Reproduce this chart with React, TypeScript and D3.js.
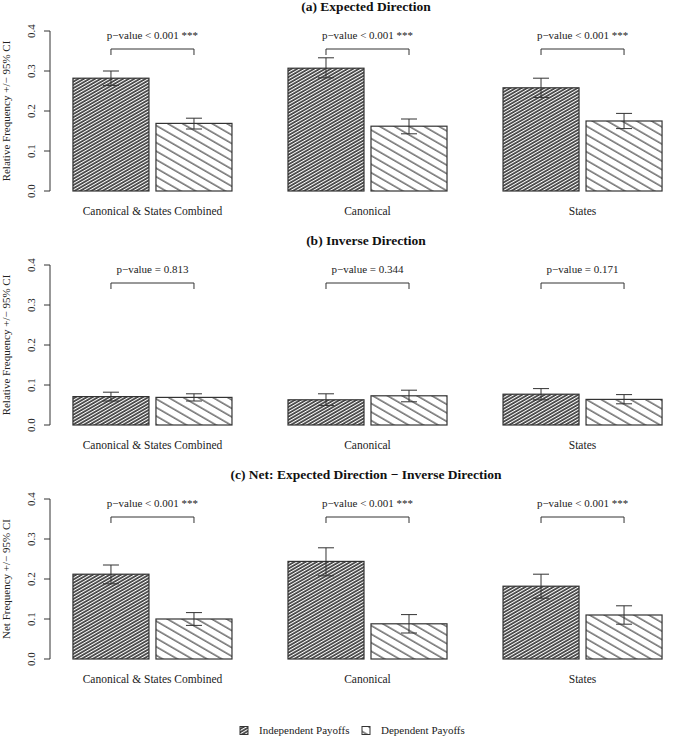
import React from "react";
import * as d3 from "d3";

const categories = ["Canonical & States Combined", "Canonical", "States"];
const series = ["Independent Payoffs", "Dependent Payoffs"];

const panelTitles = [
  "(a) Expected Direction",
  "(b) Inverse Direction",
  "(c) Net: Expected Direction \u2212 Inverse Direction",
];
const yLabels = [
  "Relative Frequency +/\u2212 95% CI",
  "Relative Frequency +/\u2212 95% CI",
  "Net Frequency +/\u2212 95% CI",
];

const expectedIndep = [0.282, 0.307, 0.258];
const expectedIndepLo = [0.264, 0.283, 0.234];
const expectedIndepHi = [0.3, 0.333, 0.282];
const expectedDep = [0.169, 0.162, 0.175];
const expectedDepLo = [0.155, 0.143, 0.156];
const expectedDepHi = [0.182, 0.18, 0.194];

const inverseIndep = [0.071, 0.063, 0.077];
const inverseIndepLo = [0.06, 0.049, 0.063];
const inverseIndepHi = [0.082, 0.078, 0.091];
const inverseDep = [0.069, 0.073, 0.064];
const inverseDepLo = [0.06, 0.058, 0.053];
const inverseDepHi = [0.078, 0.087, 0.076];

const netIndep = [0.212, 0.244, 0.182];
const netIndepLo = [0.188, 0.208, 0.152];
const netIndepHi = [0.235, 0.278, 0.212];
const netDep = [0.1, 0.088, 0.11];
const netDepLo = [0.084, 0.065, 0.087];
const netDepHi = [0.116, 0.111, 0.133];

const pExpected = ["p\u2212value < 0.001 ***", "p\u2212value < 0.001 ***", "p\u2212value < 0.001 ***"];
const pInverse = ["p\u2212value = 0.813", "p\u2212value = 0.344", "p\u2212value = 0.171"];
const pNet = ["p\u2212value < 0.001 ***", "p\u2212value < 0.001 ***", "p\u2212value < 0.001 ***"];

const yTicks = [0, 0.1, 0.2, 0.3, 0.4];

const panels = [
  { values: [expectedIndep, expectedDep], lo: [expectedIndepLo, expectedDepLo], hi: [expectedIndepHi, expectedDepHi], p: pExpected },
  { values: [inverseIndep, inverseDep], lo: [inverseIndepLo, inverseDepLo], hi: [inverseIndepHi, inverseDepHi], p: pInverse },
  { values: [netIndep, netDep], lo: [netIndepLo, netDepLo], hi: [netIndepHi, netDepHi], p: pNet },
];

const FONT = "'Liberation Serif', 'Times New Roman', serif";
const INK = "#333";
const fills = ["url(#hatchDense)", "url(#hatchSparse)"];

export default function App() {
  const W = 685;
  const H = 737;
  const x0 = d3.scaleBand<string>().domain(categories).range([45, 690]).paddingInner(0.2605).paddingOuter(0.13);
  const x1 = d3.scaleBand<string>().domain(series).range([0, x0.bandwidth()]).paddingInner(7 / 83).paddingOuter(0);
  const panelTops = [31, 265, 499];
  const fmt = d3.format(".1f");
  const titleX = 366;

  return (
    <svg width={W} height={H} style={{ display: "block", position: "absolute", left: 0, top: 0, fontFamily: FONT }} fontFamily={FONT}>
      <defs>
        <pattern id="hatchDense" patternUnits="userSpaceOnUse" width={8} height={2.8} patternTransform="rotate(-30)">
          <rect width={8} height={2.8} fill="#fff" />
          <line x1={0} x2={8} y1={1} y2={1} stroke="#222" strokeWidth={1.5} />
        </pattern>
        <pattern id="hatchSparse" patternUnits="userSpaceOnUse" width={10} height={7.4} patternTransform="rotate(30)">
          <rect width={10} height={7.4} fill="#fff" />
          <line x1={0} x2={10} y1={1} y2={1} stroke="#222" strokeWidth={1} />
        </pattern>
      </defs>
      <rect width={W} height={H} fill="#fff" />
      {panels.map((panel, pi) => {
        const top = panelTops[pi];
        const y = d3.scaleLinear().domain([0, 0.4]).range([top + 160, top]);
        return (
          <g key={pi}>
            <text x={titleX} y={top - 20} textAnchor="middle" fontWeight="bold" fontSize={13.5} fill="#111">
              {panelTitles[pi]}
            </text>
            <line x1={50} x2={50} y1={y(0)} y2={y(0.4)} stroke={INK} strokeWidth={1} />
            {yTicks.map((t) => (
              <g key={t}>
                <line x1={44} x2={50} y1={y(t)} y2={y(t)} stroke={INK} strokeWidth={1} />
                <text
                  transform={`translate(31,${y(t)}) rotate(-90)`}
                  dy="0.35em"
                  textAnchor="middle"
                  fontSize={11}
                  fill="#222"
                >
                  {fmt(t)}
                </text>
              </g>
            ))}
            <text
              transform={`translate(10,${y(0.2)}) rotate(-90)`}
              textAnchor="middle"
              fontSize={11}
              fill="#222"
            >
              {yLabels[pi]}
            </text>
            {categories.map((c, ci) => {
              const gx = x0(c) as number;
              const centers = series.map((s) => gx + (x1(s) as number) + x1.bandwidth() / 2);
              const by = y(0.355);
              return (
                <g key={c}>
                  {series.map((s, si) => {
                    const v = panel.values[si][ci];
                    const bx = gx + (x1(s) as number);
                    const cx = centers[si];
                    const lo = panel.lo[si][ci];
                    const hi = panel.hi[si][ci];
                    return (
                      <g key={s}>
                        <rect
                          x={bx}
                          y={y(v)}
                          width={x1.bandwidth()}
                          height={y(0) - y(v)}
                          fill={fills[si]}
                          stroke={INK}
                          strokeWidth={1.2}
                        />
                        <line x1={cx} x2={cx} y1={y(lo)} y2={y(hi)} stroke={INK} strokeWidth={1} />
                        <line x1={cx - 8} x2={cx + 8} y1={y(lo)} y2={y(lo)} stroke={INK} strokeWidth={1} />
                        <line x1={cx - 8} x2={cx + 8} y1={y(hi)} y2={y(hi)} stroke={INK} strokeWidth={1} />
                      </g>
                    );
                  })}
                  <path
                    d={`M${centers[0]},${by + 6}V${by}H${centers[1]}V${by + 6}`}
                    fill="none"
                    stroke={INK}
                    strokeWidth={1}
                  />
                  <text x={(centers[0] + centers[1]) / 2} y={y(0.38)} textAnchor="middle" fontSize={11} fill="#222">
                    {panel.p[ci]}
                  </text>
                  <text x={gx + x0.bandwidth() / 2} y={y(0) + 24} textAnchor="middle" fontSize={11.5} fill="#222">
                    {c}
                  </text>
                </g>
              );
            })}
          </g>
        );
      })}
      <g>
        {series.map((s, si) => {
          const lx = [240, 362][si];
          return (
            <g key={s}>
              <rect x={lx} y={726.5} width={8} height={8} fill={fills[si]} stroke={INK} strokeWidth={1} />
              <text x={lx + 19} y={734} fontSize={11} fill="#222">
                {s}
              </text>
            </g>
          );
        })}
      </g>
    </svg>
  );
}
